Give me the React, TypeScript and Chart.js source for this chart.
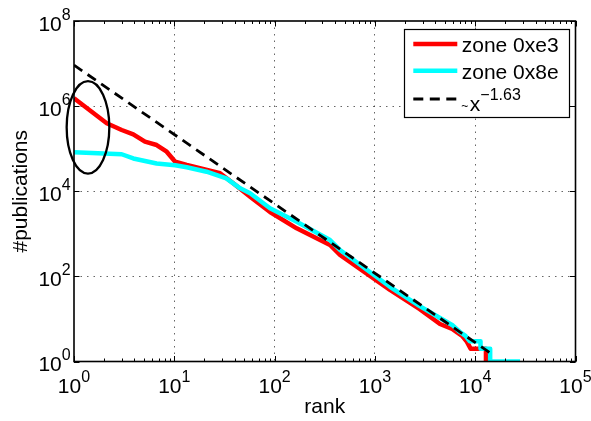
import React, { useEffect, useRef } from "react";
import { Chart, registerables } from "chart.js";

Chart.register(...registerables);

// ---- data ----
const redRank = [1, 2.12, 2.99, 3.9, 5.1, 6.67, 8.4, 10.2, 13.3, 18, 28.6, 38.7, 57, 90, 166, 357, 449, 1413, 2800, 4456, 5900, 6600, 7400, 8200, 9000, 12800, 12800];
const redPubs = [1.53e6, 3.95e5, 2.75e5, 2.18e5, 1.46e5, 1.22e5, 8.5e4, 4.94e4, 4.14e4, 3.46e4, 2.64e4, 1.54e4, 7450, 3250, 1345, 546, 318, 48, 17, 7.6, 5.8, 4.8, 4, 3, 2, 2, 1];

const cyanRank = [1, 2.99, 3.9, 6.67, 10.2, 13.3, 21, 33, 45.4, 57, 90, 166, 357, 449, 1413, 2800, 4456, 6000, 7000, 8000, 8800, 11300, 11300, 14100, 14100, 28000];
const cyanPubs = [8.2e4, 7.4e4, 5.9e4, 4.5e4, 4.1e4, 3.66e4, 2.88e4, 2.01e4, 1.17e4, 8950, 3970, 1920, 714, 416, 57, 20, 10.5, 7, 5, 4, 3, 3, 2, 2, 1, 1];

const fitRank = [1, 14000];
const fitPubs = [9.2e6, 1.61];

const ovalRank = [0.845, 2.25];
const ovalPubs = [2.6e4, 3.87e6];

const xDecades = [1, 10, 100, 1000, 10000, 100000];
const xExps = ["0", "1", "2", "3", "4", "5"];
const yDecades = [1, 100, 10000, 1000000, 100000000];
const yExps = ["0", "2", "4", "6", "8"];

const seriesNames = ["zone 0xe3", "zone 0x8e"];
const fitTilde = "~";
const fitBase = "x";
const fitExp = "\u22121.63";
const xTitle = "rank";
const yTitle = "#publications";

const FONT = '"Liberation Sans", Arial, Helvetica, sans-serif';
const RED = "#ff0000";
const CYAN = "#00ffff";
const GRID = "rgba(0,0,0,0.6)";

const toXY = (xs: number[], ys: number[]) => xs.map((x, i) => ({ x, y: ys[i] }));

const decor = {
  id: "matlabDecor",
  afterDatasetsDraw(chart: any) {
    const { ctx, chartArea: a, scales } = chart;
    const xs = scales.x;
    const ys = scales.y;
    ctx.save();
    ctx.setLineDash([]);
    ctx.strokeStyle = "#000";
    // tick marks
    ctx.lineWidth = 1;
    ctx.beginPath();
    for (let d = 0; d < xDecades.length; d++) {
      const px = Math.round(xs.getPixelForValue(xDecades[d])) + 0.5;
      ctx.moveTo(px, a.bottom); ctx.lineTo(px, a.bottom - 5.5);
      ctx.moveTo(px, a.top); ctx.lineTo(px, a.top + 5.5);
      if (d < xDecades.length - 1) {
        for (let m = 2; m <= 9; m++) {
          const p = Math.round(xs.getPixelForValue(xDecades[d] * m)) + 0.5;
          ctx.moveTo(p, a.bottom); ctx.lineTo(p, a.bottom - 3);
          ctx.moveTo(p, a.top); ctx.lineTo(p, a.top + 3);
        }
      }
    }
    for (let d = 0; d < yDecades.length; d++) {
      const py = Math.round(ys.getPixelForValue(yDecades[d])) + 0.5;
      ctx.moveTo(a.left, py); ctx.lineTo(a.left + 5.5, py);
      ctx.moveTo(a.right, py); ctx.lineTo(a.right - 5.5, py);
    }
    ctx.stroke();
    // box
    ctx.lineWidth = 1.6;
    ctx.strokeRect(a.left, a.top, a.right - a.left, a.bottom - a.top);

    // tick labels
    ctx.fillStyle = "#000";
    ctx.textBaseline = "alphabetic";
    ctx.textAlign = "left";
    for (let d = 0; d < xDecades.length; d++) {
      const px = xs.getPixelForValue(xDecades[d]);
      ctx.font = `21px ${FONT}`;
      const w10 = ctx.measureText("10").width;
      ctx.font = `16px ${FONT}`;
      const we = ctx.measureText(xExps[d]).width;
      const start = px - (w10 + we) / 2;
      ctx.font = `21px ${FONT}`;
      ctx.fillText("10", start, a.bottom + 31.2);
      ctx.font = `16px ${FONT}`;
      ctx.fillText(xExps[d], start + w10, a.bottom + 20.2);
    }
    for (let d = 0; d < yDecades.length; d++) {
      const py = ys.getPixelForValue(yDecades[d]);
      ctx.font = `21px ${FONT}`;
      const w10 = ctx.measureText("10").width;
      ctx.font = `16px ${FONT}`;
      const we = ctx.measureText(yExps[d]).width;
      const start = a.left - 3.3 - (w10 + we);
      ctx.font = `21px ${FONT}`;
      ctx.fillText("10", start, py + 9.7);
      ctx.font = `16px ${FONT}`;
      ctx.fillText(yExps[d], start + w10, py - 1.3);
    }
    // axis titles
    ctx.font = `21px ${FONT}`;
    ctx.textAlign = "center";
    ctx.fillText(xTitle, (a.left + a.right) / 2, 413.3);
    ctx.save();
    ctx.translate(27, (a.top + a.bottom) / 2);
    ctx.rotate(-Math.PI / 2);
    ctx.fillText(yTitle, 0, 0);
    ctx.restore();

    // ellipse annotation
    const x0 = xs.getPixelForValue(ovalRank[0]);
    const x1 = xs.getPixelForValue(ovalRank[1]);
    const y0 = ys.getPixelForValue(ovalPubs[0]);
    const y1 = ys.getPixelForValue(ovalPubs[1]);
    ctx.beginPath();
    ctx.lineWidth = 2.3;
    ctx.ellipse((x0 + x1) / 2, (y0 + y1) / 2, Math.abs(x1 - x0) / 2, Math.abs(y1 - y0) / 2, 0, 0, Math.PI * 2);
    ctx.stroke();
    ctx.restore();
  },
  afterDraw(chart: any) {
    const { ctx } = chart;
    ctx.save();
    // legend box
    ctx.fillStyle = "#fff";
    ctx.fillRect(404.5, 29.5, 165, 88);
    ctx.strokeStyle = "#000";
    ctx.lineWidth = 1.2;
    ctx.setLineDash([]);
    ctx.strokeRect(404.5, 29.5, 165, 88);
    const rows = [44, 70.7, 99];
    const colors = [RED, CYAN];
    ctx.lineCap = "butt";
    for (let i = 0; i < 2; i++) {
      ctx.strokeStyle = colors[i];
      ctx.lineWidth = 4.5;
      ctx.beginPath();
      ctx.moveTo(413.3, rows[i]);
      ctx.lineTo(457.3, rows[i]);
      ctx.stroke();
    }
    ctx.strokeStyle = "#000";
    ctx.lineWidth = 2.8;
    ctx.setLineDash([10, 6.5]);
    ctx.beginPath();
    ctx.moveTo(413.3, rows[2]);
    ctx.lineTo(457.3, rows[2]);
    ctx.stroke();
    ctx.setLineDash([]);
    ctx.fillStyle = "#000";
    ctx.textAlign = "left";
    ctx.textBaseline = "alphabetic";
    ctx.font = `21px ${FONT}`;
    ctx.fillText(seriesNames[0], 461.7, 52.3);
    ctx.fillText(seriesNames[1], 461.7, 78.9);
    ctx.font = `12px ${FONT}`;
    ctx.fillText(fitTilde, 461.3, 109.5);
    ctx.font = `21px ${FONT}`;
    ctx.fillText(fitBase, 469.8, 110.7);
    const wx = ctx.measureText(fitBase).width;
    ctx.font = `16px ${FONT}`;
    ctx.fillText(fitExp, 469.8 + wx, 100);
    ctx.restore();
  },
};

export default function App() {
  const ref = useRef<HTMLCanvasElement>(null);
  useEffect(() => {
    const canvas = ref.current;
    if (!canvas) return;
    const chart = new Chart(canvas, {
      type: "line",
      data: {
        datasets: [
          {
            label: seriesNames[0],
            data: toXY(redRank, redPubs),
            borderColor: RED,
            backgroundColor: RED,
            borderWidth: 4.5,
            pointRadius: 0,
            tension: 0,
            fill: false,
            order: 2,
            borderJoinStyle: "round",
          },
          {
            label: seriesNames[1],
            data: toXY(cyanRank, cyanPubs),
            borderColor: CYAN,
            backgroundColor: CYAN,
            borderWidth: 4.5,
            pointRadius: 0,
            tension: 0,
            fill: false,
            order: 1,
            borderJoinStyle: "round",
          },
          {
            label: "fit",
            data: toXY(fitRank, fitPubs),
            borderColor: "#000",
            backgroundColor: "#000",
            borderWidth: 2.8,
            borderDash: [10, 6.5],
            pointRadius: 0,
            tension: 0,
            fill: false,
            order: 0,
          },
        ],
      },
      options: {
        responsive: false,
        animation: false,
        devicePixelRatio: 1,
        layout: { padding: { left: 74, top: 21, right: 15.5, bottom: 59.5 } },
        plugins: { legend: { display: false }, tooltip: { enabled: false } },
        events: [],
        scales: {
          x: {
            type: "logarithmic",
            min: 1,
            max: 100000,
            afterBuildTicks: (axis: any) => {
              axis.ticks = xDecades.map((v) => ({ value: v }));
            },
            ticks: { display: false },
            grid: {
              drawTicks: false,
              lineWidth: 1,
              color: (c: any) => (c.tick && c.tick.value > 1 && c.tick.value < 100000 ? GRID : "rgba(0,0,0,0)"),
            },
            border: { display: false, dash: [1.5, 5] },
          },
          y: {
            type: "logarithmic",
            min: 1,
            max: 100000000,
            afterBuildTicks: (axis: any) => {
              axis.ticks = yDecades.map((v) => ({ value: v }));
            },
            ticks: { display: false },
            grid: {
              drawTicks: false,
              lineWidth: 1,
              color: (c: any) => (c.tick && c.tick.value > 1 && c.tick.value < 100000000 ? GRID : "rgba(0,0,0,0)"),
            },
            border: { display: false, dash: [1.5, 5] },
          },
        },
      },
      plugins: [decor],
    } as any);
    return () => chart.destroy();
  }, []);
  return (
    <div style={{ position: "absolute", left: 0, top: 0, width: 591, height: 421, background: "#fff" }}>
      <canvas ref={ref} width={591} height={421} style={{ display: "block", width: 591, height: 421 }} />
    </div>
  );
}
